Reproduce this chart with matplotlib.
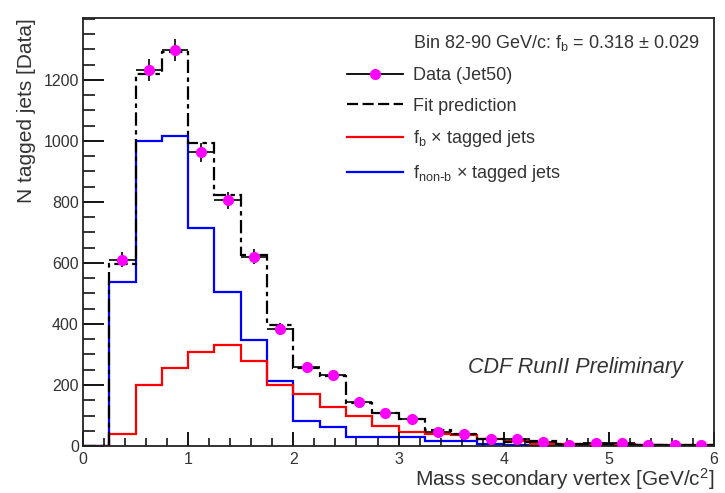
import numpy as np
import matplotlib
matplotlib.use('Agg')
import matplotlib.pyplot as plt
from matplotlib.lines import Line2D

plt.rcParams['font.family'] = ['Liberation Sans', 'DejaVu Sans']
plt.rcParams['mathtext.default'] = 'regular'

# bins of 0.25 GeV/c^2 from 0 to 6
edges = np.arange(0, 6.01, 0.25)
centers = edges[:-1] + 0.125

data_counts = [0, 610, 1232, 1298, 963, 805, 620, 383, 258, 232, 145, 108,
               88, 47, 39, 22, 22, 14, 4, 11, 11, 4, 4, 4]
fit_pred = [0, 595, 1220, 1292, 993, 823, 626, 397, 256, 229, 141, 108,
            88, 52, 39, 23, 14, 15, 6, 5, 4, 3, 3, 2]
fb_jets = [0, 38, 200, 255, 308, 331, 279, 200, 170, 129, 99, 66,
           47, 40, 35, 22, 18, 7, 7, 7, 7, 2, 2, 2]
fnonb_jets = [0, 539, 1000, 1016, 714, 504, 347, 213, 82, 63, 30, 30,
              30, 17, 17, 5, 4, 3, 3, 3, 3, 3, 0, 0]

txt = '#333333'
fig = plt.figure(figsize=(7.25, 4.93), dpi=100)
ax = fig.add_axes([0.1145, 0.0953, 0.8705, 0.8682])

ax.stairs(fnonb_jets, edges, color='blue', lw=1.6)
ax.stairs(fb_jets, edges, color='red', lw=1.6)
ax.stairs(fit_pred, edges, color='black', lw=1.6, linestyle=(0, (6, 2, 2, 2)))

d = np.array(data_counts, dtype=float)
m = d > 0
ax.errorbar(centers[m], d[m], yerr=np.sqrt(d[m]), xerr=0.125, fmt='none',
            ecolor='black', elinewidth=1.2, capsize=0)
ax.plot(centers[m], d[m], 'o', color='magenta', ms=7, zorder=5)

ax.set_xlim(0, 6)
ax.set_ylim(0, 1403)
ax.set_xticks(np.arange(0, 7, 1))
ax.set_xticks(np.arange(0, 6.01, 0.2), minor=True)
ax.set_yticks(np.arange(0, 1201, 200))
ax.set_yticks(np.arange(0, 1401, 50), minor=True)
ax.tick_params(axis='both', which='both', direction='in', top=False, right=False,
               labelsize=11.5, labelcolor=txt)
ax.tick_params(axis='y', which='major', length=15, width=1.3, pad=3)
ax.tick_params(axis='y', which='minor', length=8.5, width=1.1)
ax.tick_params(axis='x', which='major', length=10, width=1.3, pad=4.5)
ax.tick_params(axis='x', which='minor', length=6, width=1.1)
for s in ax.spines.values():
    s.set_linewidth(1.3)
    s.set_color('#222222')

ax.set_xlabel('Mass secondary vertex [GeV/c$^2$]', fontsize=15, color=txt, loc='right',
              va='top')
ax.xaxis.set_label_coords(1.0, -0.047)
ax.set_ylabel('N tagged jets [Data]', fontsize=15, color=txt, loc='top')
ax.yaxis.set_label_coords(-0.075, 1.0)

ax.text(0.523, 0.9416, 'Bin 82-90 GeV/c: f$_b$ = 0.318 \u00b1 0.029', transform=ax.transAxes,
        fontsize=13, color=txt, va='center')
ax.text(3.66, 256, 'CDF RunII Preliminary', fontsize=15.5, style='italic', color=txt,
        va='center')

handles = [Line2D([], [], color='black', lw=1.3, marker='o', mfc='magenta', mec='magenta', ms=7),
           Line2D([], [], color='black', lw=1.6, linestyle=(0, (5, 2))),
           Line2D([], [], color='red', lw=1.6),
           Line2D([], [], color='blue', lw=1.6)]
labels = ['Data (Jet50)', 'Fit prediction', 'f$_b$ \u00d7 tagged jets',
          'f$_{non\\text{-}b}$ \u00d7 tagged jets']
leg = ax.legend(handles, labels, loc='upper left', bbox_to_anchor=(0.418, 0.885),
                frameon=False, fontsize=13, handlelength=3.1, handletextpad=0.55,
                labelspacing=0.75, borderpad=0, borderaxespad=0)
for t in leg.get_texts():
    t.set_color(txt)

fig.savefig('out.png', dpi=100)
